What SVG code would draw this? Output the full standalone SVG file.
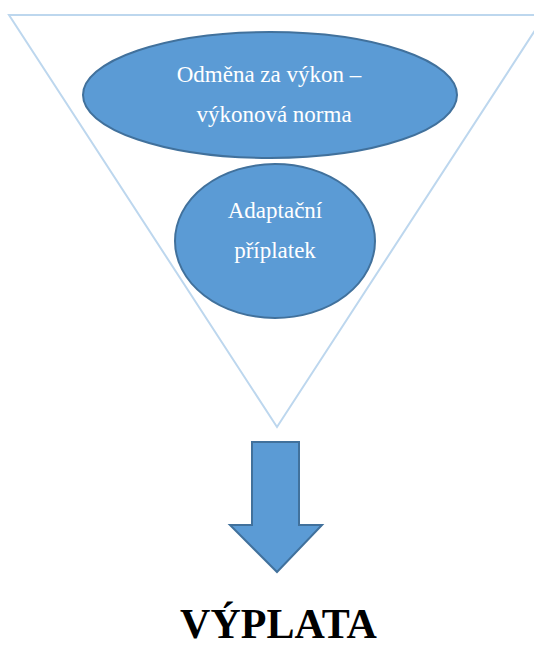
<svg xmlns="http://www.w3.org/2000/svg" width="534" height="648" viewBox="0 0 534 648">
<style>
.shape{fill:#5b9bd5;stroke:#41719c;stroke-width:2}
.lbl{font-family:"Liberation Serif","Times New Roman",serif;font-size:23px;fill:#ffffff;text-anchor:middle}
.title{font-family:"Liberation Serif","Times New Roman",serif;font-size:42px;font-weight:bold;fill:#000000;text-anchor:middle}
</style>
<rect width="534" height="648" fill="#ffffff"/>
<g id="funnel">
<polygon points="9,15 545,15 277,427" fill="none" stroke="#bdd7ee" stroke-width="2"/>
</g>
<g id="node-odmena">
<ellipse class="shape" cx="270" cy="95" rx="187" ry="63"/>
<text class="lbl" x="269" y="82">Odměna za výkon –</text>
<text class="lbl" x="274" y="122">výkonová norma</text>
</g>
<g id="node-adaptacni">
<ellipse class="shape" cx="275" cy="241" rx="100" ry="77"/>
<text class="lbl" x="275" y="218">Adaptační</text>
<text class="lbl" x="275" y="258">příplatek</text>
</g>
<g id="connectors">
<polygon class="shape" points="252,442 299,442 299,525 322,525 277,572 230,525 252,525"/>
</g>
<g id="node-vyplata">
<text class="title" x="278.5" y="638">VÝPLATA</text>
</g>
</svg>
